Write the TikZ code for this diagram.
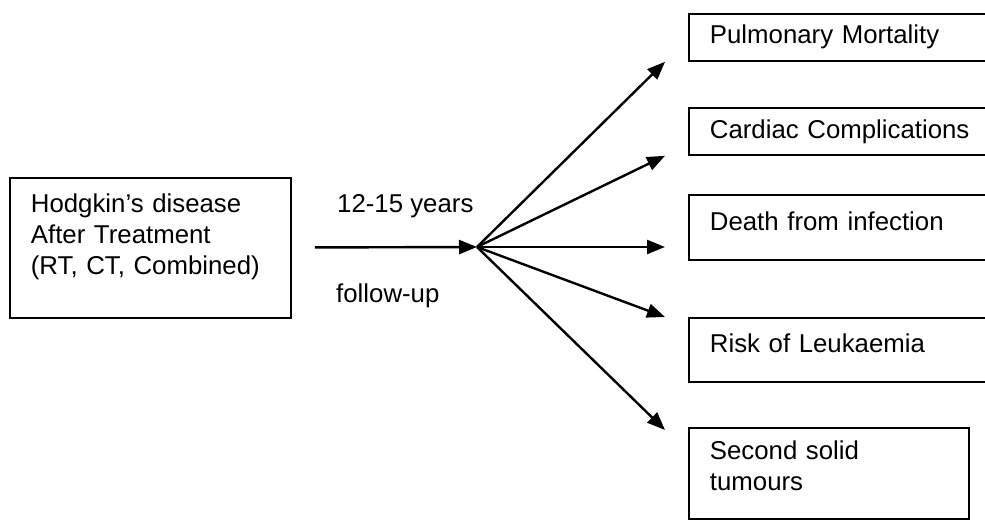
\documentclass[tikz,border=0pt]{standalone}
\usepackage{fontspec}
\setmainfont{Liberation Sans}
\usetikzlibrary{arrows.meta}

\tikzset{
	outcome/.style 2 args={draw, line width=1.8pt, anchor=north west, align=left,
		inner xsep=21pt, inner ysep=0pt, text width=268pt, text height=#1, text depth=#2},
	label/.style={anchor=base west, inner sep=0pt}
}

\begin{document}
\begin{tikzpicture}[x=1pt, y=1pt, line width=2.4pt, font=\fontsize{25.8}{31}\selectfont,
	>={Triangle[length=18pt,width=14pt]}]
		\clip (0,0) rectangle (985,520);
		\node[outcome={35pt}{105pt}, text width=239pt] (hd) at (9,343) {Hodgkin’s disease\\After Treatment\\(RT, CT, Combined)};
		\node[outcome={30pt}{17pt}] (pm) at (688,507) {Pulmonary Mortality};
		\node[outcome={31pt}{16pt}] (cc) at (688,413) {Cardiac Complications};
		\node[outcome={36pt}{29pt}] (df) at (688,326) {Death from infection};
		\node[outcome={35pt}{29pt}] (rl) at (688,203) {Risk of Leukaemia};
		\node[outcome={32pt}{59pt}, text width=238pt] (st) at (688,93) {Second solid\\tumours};
		\node[label] (yrs) at (336,307) {12-15 years};
		\node[label] (fu) at (335,218) {follow-up};
		\coordinate (hub) at (477,273);
		\path[->]
		(hd) edge [shorten <=23pt] (hub)
		(hub) edge ([xshift=-23pt]pm.south west)
		edge ([xshift=-23pt]cc.south west)
		edge [shorten >=23pt] (hub -| df.west)
		edge ([xshift=-23pt]rl.north west)
		edge ([shift={(-23pt,-3pt)}]st.north west)
		;
		\end{tikzpicture}
\end{document}
